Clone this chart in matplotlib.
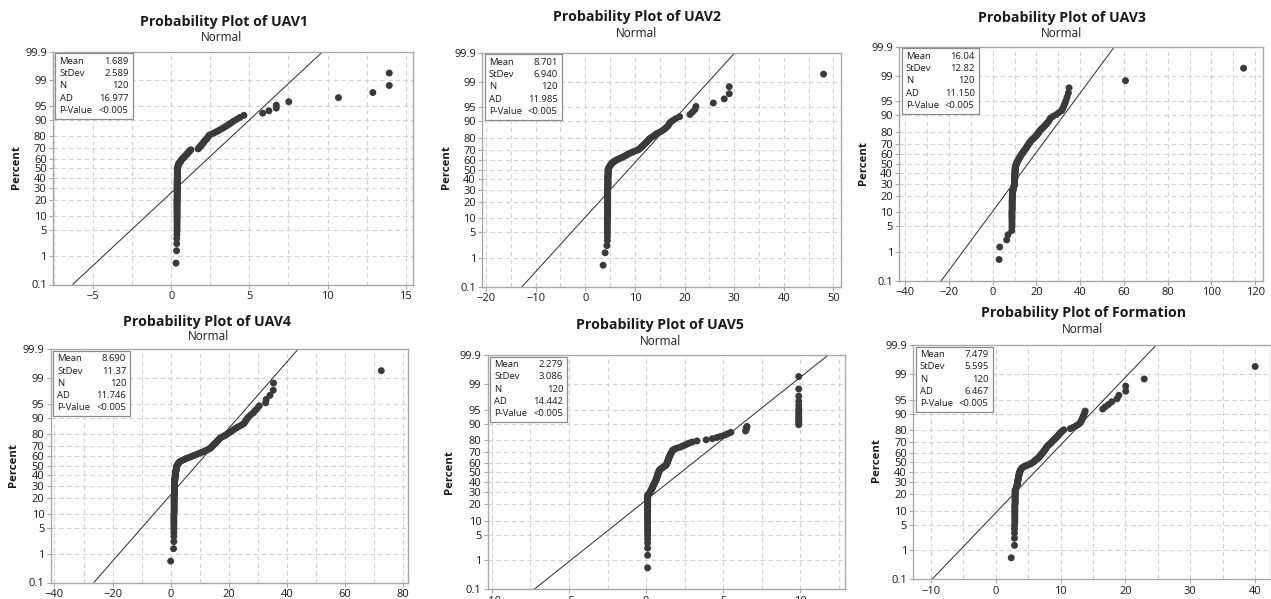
import math
import numpy as np
import matplotlib
matplotlib.use("Agg")
import matplotlib.pyplot as plt
from matplotlib.ticker import MultipleLocator
from matplotlib.patches import Rectangle

# ---------------- data ----------------
names = ["UAV1", "UAV2", "UAV3", "UAV4", "UAV5", "Formation"]
dist_name = "Normal"

uav1 = [0.30, 0.34, 0.35, 0.35, 0.36,
        0.37, 0.37, 0.37, 0.37, 0.37, 0.37, 0.37, 0.37, 0.37, 0.37,
        0.37, 0.37, 0.37, 0.37, 0.37, 0.37, 0.37, 0.37, 0.37, 0.37,
        0.38, 0.38, 0.38, 0.38, 0.38, 0.38, 0.38, 0.38, 0.38, 0.38,
        0.38, 0.38, 0.38, 0.38, 0.38, 0.38, 0.38, 0.38, 0.38, 0.38,
        0.39, 0.39, 0.39, 0.39, 0.39, 0.39, 0.39, 0.39, 0.39, 0.39,
        0.39, 0.39, 0.39, 0.39, 0.39,
        0.41, 0.42, 0.43, 0.44, 0.46, 0.48,
        0.50, 0.55, 0.60, 0.62, 0.65, 0.70, 0.75, 0.80, 0.85, 0.90,
        0.95, 1.00, 1.05, 1.10, 1.15, 1.20, 1.25,
        1.72, 1.77, 1.82, 1.87, 1.92, 1.97, 2.02, 2.07, 2.12, 2.17,
        2.25, 2.30, 2.35, 2.40, 2.45, 2.65, 2.80, 2.95, 3.10, 3.25,
        3.40, 3.55, 3.70, 3.85, 4.00, 4.20, 4.40, 4.65,
        5.85, 6.25, 6.72, 6.72, 7.52, 10.7, 12.9, 13.95, 13.95]

uav2 = [3.6, 4.0, 4.35,
        4.45, 4.45, 4.45, 4.45, 4.45, 4.45, 4.45, 4.45, 4.45, 4.45,
        4.5, 4.5, 4.5, 4.5, 4.5, 4.5, 4.5, 4.5, 4.5, 4.5,
        4.5, 4.5, 4.5, 4.5, 4.5, 4.5, 4.5, 4.5, 4.5, 4.5,
        4.5, 4.5, 4.5, 4.5, 4.5,
        4.55, 4.55, 4.55, 4.55, 4.55, 4.55, 4.55, 4.55, 4.55, 4.55,
        4.55, 4.55, 4.55, 4.55, 4.55,
        4.6, 4.6, 4.6, 4.6, 4.6, 4.6, 4.6, 4.6,
        4.65, 4.75, 4.85, 4.95, 5.05, 5.15, 5.25, 5.4, 5.6, 5.85,
        6.1, 6.4, 6.75, 7.1, 7.5, 7.8, 8.1, 8.4, 8.7, 9.1,
        9.5, 9.9, 10.4, 10.8, 11.0, 11.2, 11.4, 11.6, 11.8, 12.0,
        12.2, 12.4, 12.6, 12.8, 13.0, 13.3, 13.7, 14.0, 14.3, 14.8,
        15.3, 15.7, 16.1, 16.4, 16.7, 16.9, 17.1, 17.6, 18.2, 19.0,
        21.1, 21.6, 22.1, 22.3, 25.8, 28.0, 29.0, 29.0, 48.0]

uav3 = [2.9, 3.2, 6.4, 7.0,
        8.7, 8.8, 8.8, 8.8, 8.8, 8.8, 8.8, 8.8, 8.8,
        8.9, 8.9, 8.9, 8.9, 8.9, 8.9, 8.9, 8.9,
        9.0, 9.0, 9.0, 9.0, 9.0, 9.0, 9.1, 9.2, 9.3, 9.4, 9.5, 9.6,
        9.8, 9.9, 10.0, 10.0, 10.0, 10.0, 10.0, 10.0,
        10.1, 10.1, 10.1, 10.1, 10.1, 10.1, 10.2, 10.2, 10.2, 10.2, 10.2,
        10.3, 10.3, 10.3, 10.3, 10.4, 10.5, 10.6, 10.8, 10.9, 11.0,
        11.2, 11.4, 11.6, 11.8, 12.0, 12.2, 12.4, 12.6, 12.9, 13.1,
        13.4, 13.6, 13.9, 14.1, 14.4, 14.7, 15.0, 15.3, 15.5, 15.8,
        16.0, 16.3, 16.6, 16.9, 17.1, 17.5, 17.9, 18.4, 18.9, 19.4,
        19.8, 20.2, 20.6, 21.0, 21.3, 21.6, 22.2, 22.8, 23.4, 24.0,
        24.5, 25.0, 25.6, 26.0, 26.4, 27.5, 29.0, 30.2,
        31.5, 32.0, 32.5, 33.0, 33.5, 34.0, 34.6, 34.9,
        60.7, 114.7]

uav4 = [0.0, 1.0,
        1.1, 1.1, 1.1, 1.1, 1.1, 1.1, 1.1, 1.1, 1.1, 1.1,
        1.2, 1.2, 1.2, 1.2, 1.2, 1.2, 1.2, 1.2, 1.2, 1.2, 1.2, 1.2, 1.2, 1.2,
        1.3, 1.3, 1.3, 1.3, 1.3, 1.3, 1.3, 1.3, 1.3, 1.3, 1.3, 1.3, 1.3, 1.3,
        1.35, 1.4, 1.4, 1.45, 1.5, 1.5, 1.55, 1.6, 1.6, 1.65,
        1.7, 1.7, 1.75, 1.8, 1.85, 1.9, 1.95, 2.0, 2.05, 2.1,
        2.2, 2.35, 2.5, 2.7, 2.95, 3.2, 3.7, 4.3, 4.9, 5.5,
        6.2, 6.9, 7.6, 8.3, 9.0, 9.7, 10.4, 11.2, 11.8, 12.4,
        13.0, 13.5, 13.9, 14.2, 14.5, 14.8, 15.1, 15.5, 15.8, 16.1,
        16.4, 16.7, 17.0, 17.7, 18.4, 19.0, 19.6, 20.2, 20.8, 21.4,
        22.0, 22.8, 23.6, 24.5, 25.2, 25.6, 25.9, 26.3, 26.8, 27.5,
        28.4, 29.0, 29.8, 30.5, 32.7, 32.9, 34.2, 35.3, 35.4,
        72.5]

uav5 = [0.1, 0.1, 0.1, 0.1, 0.1, 0.1, 0.1, 0.1, 0.1, 0.1, 0.1,
        0.1, 0.1, 0.1, 0.1, 0.1, 0.1, 0.1, 0.1, 0.1, 0.1, 0.1,
        0.1, 0.1, 0.1, 0.1, 0.1, 0.1, 0.1, 0.1, 0.1, 0.1, 0.1,
        0.15, 0.2, 0.25, 0.28, 0.31, 0.34, 0.37, 0.4, 0.42, 0.45,
        0.47, 0.5, 0.52, 0.55, 0.58, 0.6, 0.63, 0.65, 0.67, 0.69,
        0.71, 0.72, 0.74, 0.76, 0.77, 0.79, 0.8, 0.82, 0.84, 0.86,
        0.92, 0.98, 1.05, 1.12, 1.2, 1.28, 1.32, 1.34, 1.36, 1.38,
        1.4, 1.42, 1.44, 1.46, 1.48, 1.5, 1.52, 1.55, 1.58, 1.61,
        1.64, 1.67, 1.7, 1.73,
        1.85, 2.0, 2.2, 2.35, 2.5, 2.65, 2.8, 3.0, 3.3, 3.9,
        4.3, 4.6, 4.85, 5.1, 5.3, 5.5,
        6.45, 6.5, 6.5, 6.55,
        9.9, 9.9, 9.9, 9.9, 9.9, 9.9, 9.9, 9.9, 9.9, 9.9, 9.9, 9.9, 9.9]

formation = [2.4,
             2.9, 2.9, 2.9, 2.9, 2.9,
             2.95, 2.95, 2.95, 2.95, 2.95, 2.95, 2.95, 2.95, 2.95, 2.95,
             3.0, 3.0, 3.0, 3.0, 3.0, 3.0, 3.0, 3.0, 3.0, 3.0, 3.0, 3.0,
             3.1, 3.15, 3.2, 3.25, 3.3, 3.32, 3.35, 3.38, 3.4, 3.42,
             3.45, 3.47, 3.5, 3.52, 3.55, 3.58, 3.6, 3.63, 3.66, 3.7,
             3.75, 3.8, 3.85,
             3.95, 4.05, 4.2, 4.4, 4.7, 5.0, 5.3, 5.5, 5.7, 5.9, 6.0, 6.1,
             6.3, 6.45, 6.6, 6.7, 6.8, 6.9, 7.0, 7.1, 7.2, 7.3,
             7.4, 7.5, 7.6, 7.7, 7.8, 7.85, 7.95, 8.1, 8.25, 8.4,
             8.55, 8.65, 8.8, 8.95, 9.1, 9.25, 9.4, 9.55, 9.65, 9.8,
             9.95, 10.1, 10.3, 10.5,
             11.5, 11.9, 12.3, 12.6, 12.9, 13.1, 13.2, 13.3, 13.4, 13.5,
             13.6, 13.7, 13.8,
             16.5, 16.9, 17.4, 17.9, 18.7, 19.0, 20.05, 20.05, 22.9, 40.0]

series = [uav1, uav2, uav3, uav4, uav5, formation]

stat_labels = ["Mean", "StDev", "N", "AD", "P-Value"]
means = ["1.689", "8.701", "16.04", "8.690", "2.279", "7.479"]
stdevs = ["2.589", "6.940", "12.82", "11.37", "3.086", "5.595"]
counts = ["120", "120", "120", "120", "120", "120"]
ads = ["16.977", "11.985", "11.150", "11.746", "14.442", "6.467"]
pvalues = ["<0.005", "<0.005", "<0.005", "<0.005", "<0.005", "<0.005"]

percent_ticks = [0.1, 1, 5, 10, 20, 30, 40, 50, 60, 70, 80, 90, 95, 99, 99.9]
percent_labels = ["0.1", "1", "5", "10", "20", "30", "40", "50", "60",
                  "70", "80", "90", "95", "99", "99.9"]

# ---------------- layout (pixels) ----------------
W, H = 1271, 599
layout = [
    dict(ax=(53.0, 51.7, 413.0, 284.5), xlim=(-7.57, 15.47), major=5, minor=2.5,
         title=(224.5, 21.7), sub=(222.0, 37.7), ylab=(16.7, 166.7)),
    dict(ax=(482.3, 52.7, 840.7, 286.7), xlim=(-20.75, 51.46), major=10, minor=5,
         title=(636.7, 17.3), sub=(636.7, 33.3), ylab=(446.0, 166.7)),
    dict(ax=(899.3, 46.7, 1263.3, 281.0), xlim=(-42.7, 123.7), major=20, minor=10,
         title=(1062.3, 18.3), sub=(1061.0, 33.3), ylab=(863.3, 163.3)),
    dict(ax=(50.7, 349.3, 408.0, 582.5), xlim=(-41.3, 81.7), major=20, minor=10,
         title=(207.3, 321.7), sub=(208.3, 336.0), ylab=(13.3, 465.0)),
    dict(ax=(487.7, 355.0, 845.0, 589.3), xlim=(-10.27, 12.9), major=5, minor=2.5,
         title=(660.0, 325.0), sub=(660.7, 341.7), ylab=(449.3, 471.7)),
    dict(ax=(913.3, 345.0, 1270.7, 579.3), xlim=(-12.7, 42.4), major=10, minor=5,
         title=(1083.3, 312.7), sub=(1082.3, 329.3), ylab=(876.7, 460.0)),
]

FONT = ["Open Sans", "Noto Sans", "DejaVu Sans"]
plt.rcParams["font.family"] = FONT

MARK = "#3a3a3a"
GRID = "#d2d2d2"
FRAME = "#a9a9a9"
TXT = "#1a1a1a"

# ---------------- normal scale helpers ----------------
_a = [-3.969683028665376e+01, 2.209460984245205e+02, -2.759285104469687e+02,
      1.383577518672690e+02, -3.066479806614716e+01, 2.506628277459239e+00]
_b = [-5.447609879822406e+01, 1.615858368580409e+02, -1.556989798598866e+02,
      6.680131188771972e+01, -1.328068155288572e+01]
_c = [-7.784894002430293e-03, -3.223964580411365e-01, -2.400758277161838e+00,
      -2.549732539343734e+00, 4.374664141464968e+00, 2.938163982698783e+00]
_d = [7.784695709041462e-03, 3.224671290700398e-01, 2.445134137142996e+00,
      3.754408661907416e+00]


def _ppf_scalar(p):
    p = min(max(p, 1e-12), 1 - 1e-12)
    plow = 0.02425
    if p < plow:
        q = math.sqrt(-2 * math.log(p))
        x = (((((_c[0]*q+_c[1])*q+_c[2])*q+_c[3])*q+_c[4])*q+_c[5]) / \
            ((((_d[0]*q+_d[1])*q+_d[2])*q+_d[3])*q+1)
    elif p <= 1 - plow:
        q = p - 0.5
        r = q * q
        x = (((((_a[0]*r+_a[1])*r+_a[2])*r+_a[3])*r+_a[4])*r+_a[5])*q / \
            (((((_b[0]*r+_b[1])*r+_b[2])*r+_b[3])*r+_b[4])*r+1)
    else:
        q = math.sqrt(-2 * math.log(1 - p))
        x = -(((((_c[0]*q+_c[1])*q+_c[2])*q+_c[3])*q+_c[4])*q+_c[5]) / \
            ((((_d[0]*q+_d[1])*q+_d[2])*q+_d[3])*q+1)
    e = 0.5 * math.erfc(-x / math.sqrt(2)) - p
    u = e * math.sqrt(2 * math.pi) * math.exp(x * x / 2)
    return x - u / (1 + x * u / 2)


_ppf_vec = np.vectorize(_ppf_scalar, otypes=[float])
_cdf_vec = np.vectorize(lambda z: 0.5 * math.erfc(-z / math.sqrt(2)), otypes=[float])


def pct_to_z(pct):
    pct = np.asarray(pct, dtype=float)
    return _ppf_vec(np.clip(pct / 100.0, 1e-12, 1 - 1e-12))


def z_to_pct(z):
    z = np.asarray(z, dtype=float)
    return 100.0 * _cdf_vec(z)


def fx(px):
    return px / W


def fy(py):
    return 1 - py / H


# ---------------- figure ----------------
fig = plt.figure(figsize=(W / 100, H / 100), dpi=100)
fig.patch.set_facecolor("white")

for k in range(6):
    L = layout[k]
    x0, y0, x1, y1 = L["ax"]
    ax = fig.add_axes([fx(x0), fy(y1), (x1 - x0) / W, (y1 - y0) / H])
    ax.set_yscale("function", functions=(pct_to_z, z_to_pct))
    ax.set_ylim(0.1, 99.9)
    ax.set_xlim(*L["xlim"])
    ax.set_yticks(percent_ticks)
    ax.set_yticklabels(percent_labels)
    ax.yaxis.set_minor_locator(matplotlib.ticker.NullLocator())
    ax.xaxis.set_major_locator(MultipleLocator(L["major"]))
    ax.xaxis.set_minor_locator(MultipleLocator(L["minor"]))
    ax.grid(which="both", axis="x", color=GRID, linestyle=(0, (4, 3)), linewidth=0.8)
    ax.grid(which="major", axis="y", color=GRID, linestyle=(0, (4, 3)), linewidth=0.8)
    ax.set_axisbelow(True)
    for s in ax.spines.values():
        s.set_color(FRAME)
        s.set_linewidth(1.0)
    ax.tick_params(which="major", direction="out", length=3, width=0.8, color=FRAME,
                   labelsize=8.0, labelcolor=TXT, pad=1.5)
    ax.tick_params(which="minor", length=0)

    data = np.sort(np.asarray(series[k], dtype=float))
    n = len(data)
    ranks = np.arange(1, n + 1)
    pct = (ranks - 0.3) / (n + 0.4) * 100.0
    ax.scatter(data, pct, s=25, color=MARK, edgecolors="none", zorder=3)

    mu = float(means[k])
    sd = float(stdevs[k])
    pline = np.array([0.1, 99.9])
    xline = mu + sd * pct_to_z(pline)
    ax.plot(xline, pline, color="#2a2a2a", linewidth=0.7, zorder=2)

    tx, ty = L["title"]
    fig.text(fx(tx), fy(ty), "Probability Plot of " + names[k], ha="center",
             va="center", fontsize=10.2, fontweight="bold", color=TXT)
    sx, sy = L["sub"]
    fig.text(fx(sx), fy(sy), dist_name, ha="center", va="center",
             fontsize=8.5, color=TXT)
    lx, ly = L["ylab"]
    fig.text(fx(lx), fy(ly), "Percent", ha="center", va="center", rotation=90,
             fontsize=8.2, fontweight="bold", color=TXT)

    bx0 = x0 + 2.5
    by0 = y0 + 1.5
    bw, bh = 77.0, 65.5
    fig.add_artist(Rectangle((fx(bx0), fy(by0 + bh)), bw / W, bh / H,
                             transform=fig.transFigure, facecolor="white",
                             edgecolor="#8c8c8c", linewidth=0.9, zorder=5))
    vals = [means[k], stdevs[k], counts[k], ads[k], pvalues[k]]
    for j in range(5):
        ry = by0 + 8.0 + j * 12.3
        fig.text(fx(bx0 + 4), fy(ry), stat_labels[j], ha="left", va="center",
                 fontsize=6.8, color=TXT, zorder=6)
        fig.text(fx(bx0 + bw - 4), fy(ry), vals[j], ha="right", va="center",
                 fontsize=6.8, color=TXT, zorder=6)

fig.savefig("out.png", dpi=100)
